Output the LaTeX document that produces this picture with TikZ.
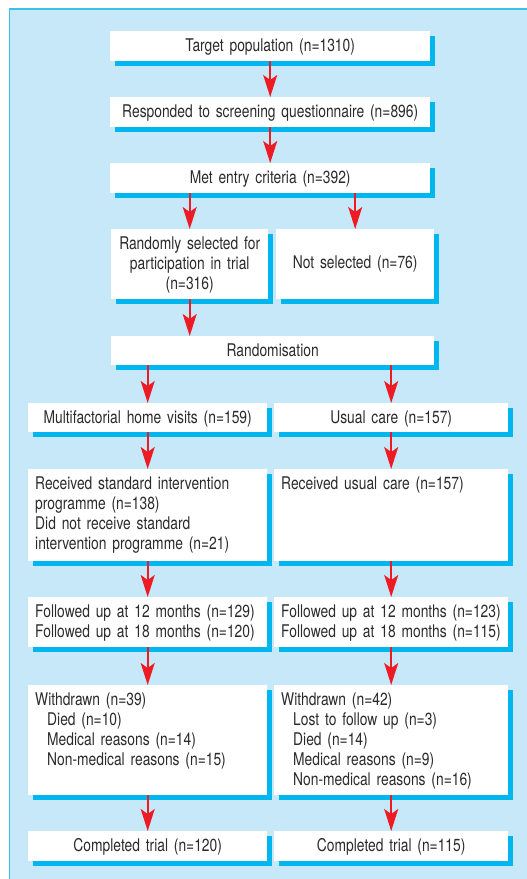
\documentclass[tikz,border=0pt]{standalone}
\usepackage{fontspec}
\setmainfont{TeX Gyre Heros}[FakeStretch=0.79]
\usepackage{tikz}
\usetikzlibrary{arrows.meta,shadows}
\definecolor{panelblue}{HTML}{C6E8F8}
\definecolor{edgeblue}{HTML}{3DBFEE}
\definecolor{shadeblue}{HTML}{00B6EF}
\definecolor{arrowred}{HTML}{ED1C24}
\definecolor{textgray}{HTML}{2B2B2B}
\tikzstyle{block} = [rectangle, fill=white, anchor=north west,
inner xsep=7pt, inner ysep=0pt, text height=20pt, text=textgray,
font=\fontsize{17.5}{20}\selectfont,
drop shadow={shadow xshift=5pt, shadow yshift=-5pt, fill=shadeblue, opacity=1}]
\tikzstyle{line} = [draw=arrowred, line width=1.6pt, -{Stealth[length=22pt, width=14pt, inset=5pt]}]
\tikzset{
  wide/.style     = {block, text width=306pt, text depth=10pt, align=center},
  half/.style     = {block, inner xsep=3pt, text width=151pt, text depth=50pt, align=center},
  leftcol/.style  = {block, text width=225pt, align=left},
  rightcol/.style = {block, text width=220pt, align=left}
}
\newcommand{\ind}{\hspace*{12pt}}

\begin{document}
\begin{tikzpicture}[x=1pt, y=-1pt]
	\useasboundingbox (0,0) rectangle (527,879);
	% Panel
	\fill [panelblue] (9,9) rectangle (527,879);
	\draw [edgeblue, line width=2pt] (9,9) -- (527,9);
	\draw [edgeblue, line width=1.3pt] (9.6,9) -- (9.6,879);
	% Place nodes
	\node [wide] (targetPop) at (110,31) {Target population (n=1310)};
	\node [wide] (screenResp) at (110,97) {Responded to screening questionnaire (n=896)};
	\node [wide] (entryMet) at (110,163) {Met entry criteria (n=392)};
	% Level 2
	\node [half] (randSel) at (111,229) {Randomly selected for\\participation in trial\\(n=316)};
	\node [half, text width=152pt, text height=39pt, text depth=31pt] (notSel) at (276,229) {Not selected (n=76)};
	\node [wide, text width=309pt, text depth=9pt] (randomise) at (111,336) {Randomisation};
	% Level 3
	\node [leftcol, align=center, text depth=9pt] (homeVisits) at (28,403) {Multifactorial home visits (n=159)};
	\node [rightcol, align=center, text depth=9pt] (usualCare) at (274,403) {Usual care (n=157)};
	\node [leftcol, text depth=72pt] (recvStd) at (28,469) {Received standard intervention\\programme (n=138)\\Did not receive standard\\intervention programme (n=21)};
	\node [rightcol, text depth=72pt] (recvUsual) at (274,469) {Received usual care (n=157)};
	% Level 4
	\node [leftcol, text depth=30pt] (followHome) at (28,597) {Followed up at 12 months (n=129)\\Followed up at 18 months (n=120)};
	\node [rightcol, text depth=30pt] (followUsual) at (274,597) {Followed up at 12 months (n=123)\\Followed up at 18 months (n=115)};
	\node [leftcol, text depth=90pt] (withdrawnHome) at (28,685) {Withdrawn (n=39)\\\ind Died (n=10)\\\ind Medical reasons (n=14)\\\ind Non-medical reasons (n=15)};
	\node [rightcol, text depth=90pt] (withdrawnUsual) at (274,685) {Withdrawn (n=42)\\\ind Lost to follow up (n=3)\\\ind Died (n=14)\\\ind Medical reasons (n=9)\\\ind Non-medical reasons (n=16)};
	\node [leftcol, align=center, text depth=10pt] (completeHome) at (28,831) {Completed trial (n=120)};
	\node [rightcol, align=center, text depth=10pt] (completeUsual) at (274,831) {Completed trial (n=115)};
	% Draw edges
	\path [line] (targetPop.south) -- (screenResp.north);
	\path [line] (screenResp.south) -- (entryMet.north);
	\path [line] (entryMet.south -| randSel.north) -- (randSel.north);
	\path [line] (entryMet.south -| notSel.north) -- (notSel.north);
	\path [line] (randSel.south) -- (randomise.north -| randSel.south);
	\path [line] (randomise.south -| homeVisits.north) -- (homeVisits.north);
	\path [line] (randomise.south -| usualCare.north) -- (usualCare.north);
	\path [line] (homeVisits) -- (recvStd);
	\path [line] (usualCare) -- (recvUsual);
	\path [line] (recvStd) -- (followHome);
	\path [line] (recvUsual) -- (followUsual);
	\path [line] (followHome) -- (withdrawnHome);
	\path [line] (followUsual) -- (withdrawnUsual);
	\path [line] (withdrawnHome) -- (completeHome);
	\path [line] (withdrawnUsual) -- (completeUsual);
\end{tikzpicture}
\end{document}
